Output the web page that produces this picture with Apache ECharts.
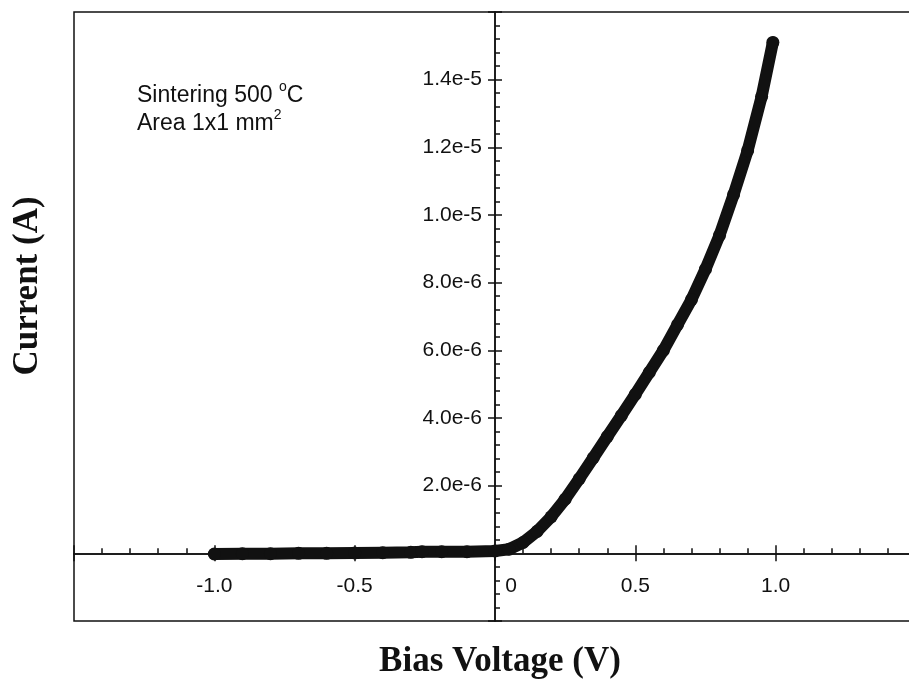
<!DOCTYPE html>
<html>
<head>
<meta charset="utf-8">
<script src="https://cdn.jsdelivr.net/npm/echarts@6/dist/echarts.min.js"></script>
<style>
  html, body { margin: 0; padding: 0; background: #fff; }
  #main { width: 909px; height: 685px; }
</style>
</head>
<body>
<div id="main"></div>
<script>
var voltage = [-1.0, -0.9, -0.8, -0.7, -0.6, -0.5, -0.4, -0.3, -0.26, -0.19, -0.1, 0.0,
  0.05, 0.10, 0.15, 0.20, 0.25, 0.30, 0.35, 0.40, 0.45, 0.50, 0.55, 0.60,
  0.65, 0.70, 0.75, 0.80, 0.85, 0.90, 0.95, 0.99];
var current = [-0.02e-6, -0.01e-6, -0.01e-6, 0.0, 0.0, 0.01e-6, 0.02e-6, 0.03e-6, 0.05e-6, 0.05e-6, 0.05e-6, 0.07e-6,
  0.12e-6, 0.32e-6, 0.65e-6, 1.08e-6, 1.6e-6, 2.2e-6, 2.82e-6, 3.45e-6, 4.07e-6, 4.7e-6, 5.35e-6, 6.0e-6,
  6.75e-6, 7.5e-6, 8.4e-6, 9.4e-6, 10.6e-6, 11.9e-6, 13.5e-6, 15.1e-6];

var xTicks = [-1.0, -0.5, 0, 0.5, 1.0];
var yTickLabels = ['2.0e-6', '4.0e-6', '6.0e-6', '8.0e-6', '1.0e-5', '1.2e-5', '1.4e-5'];

var points = voltage.map(function (v, i) { return [v, current[i]]; });

var ink = '#111';
// plot box in pixels; the axes cross at (0, 0) inside it
var box = { left: 74, right: -7, top: 12, bottom: 64 };
var xMin = -1.5, xMax = 1.5, yMin = -2e-6, yMax = 1.6e-5;
var boxW = 909 - box.left - box.right, boxH = 685 - box.top - box.bottom;
var yAxisShift = -boxW * (0 - xMin) / (xMax - xMin);
var xAxisShift = -boxH * (0 - yMin) / (yMax - yMin);

var chart = echarts.init(document.getElementById('main'));

function xLabel(v) {
  if (Math.abs(v) < 1e-9) return '{z|0}';
  for (var i = 0; i < xTicks.length; i++) {
    if (Math.abs(xTicks[i] - v) < 1e-9) return v.toFixed(1);
  }
  return '';
}
function yLabel(v) {
  var s = v.toExponential(1);
  return yTickLabels.indexOf(s) >= 0 ? s : '';
}

var xBase = {
  type: 'value', min: xMin, max: xMax, interval: 0.5, position: 'bottom', offset: xAxisShift,
  splitLine: { show: false },
  axisLine: { onZero: false, lineStyle: { color: ink, width: 1.5 } }
};
var yBase = {
  type: 'value', min: yMin, max: yMax, interval: 2e-6, position: 'left', offset: yAxisShift,
  splitLine: { show: false },
  axisLine: { onZero: false, lineStyle: { color: ink, width: 1.5 } }
};

var option = {
  animation: false,
  backgroundColor: '#fff',
  grid: {
    left: box.left, right: box.right, top: box.top, bottom: box.bottom,
    show: true, borderColor: ink, borderWidth: 1.5,
    outerBoundsMode: 'none'
  },
  xAxis: [
    Object.assign({}, xBase, {
      axisTick: { inside: true, length: 8, lineStyle: { color: ink, width: 1.5 } },
      minorTick: { show: true, splitNumber: 5, length: 5, lineStyle: { color: ink, width: 1.5 } },
      axisLabel: {
        margin: 22, fontFamily: 'Liberation Sans, Arial', fontSize: 21, color: ink,
        showMinLabel: false, showMaxLabel: false, formatter: xLabel,
        rich: { z: { fontFamily: 'Liberation Sans, Arial', fontSize: 21, color: ink, padding: [0, 0, 0, 32] } }
      }
    }),
    Object.assign({}, xBase, {
      axisTick: { inside: false, length: 8, lineStyle: { color: ink, width: 1.5 } },
      axisLabel: { show: false }
    })
  ],
  yAxis: [
    Object.assign({}, yBase, {
      axisTick: { inside: true, length: 7, lineStyle: { color: ink, width: 1.5 } },
      minorTick: { show: true, splitNumber: 5, length: 5, lineStyle: { color: ink, width: 1.5 } },
      axisLabel: {
        margin: 13, fontFamily: 'Liberation Sans, Arial', fontSize: 21, color: ink,
        showMinLabel: false, showMaxLabel: false, formatter: yLabel
      }
    }),
    Object.assign({}, yBase, {
      axisTick: { inside: false, length: 7, lineStyle: { color: ink, width: 1.5 } },
      axisLabel: { show: false }
    })
  ],
  graphic: [
    {
      type: 'text', left: 137, top: 80,
      style: {
        text: 'Sintering 500 {sup|o}C\nArea 1x1 mm{sup|2}',
        fontFamily: 'Liberation Sans, Arial', fontSize: 23, fill: ink, lineHeight: 28,
        rich: {
          sup: { fontFamily: 'Liberation Sans, Arial', fontSize: 14, fill: ink, lineHeight: 14, padding: [0, 0, 18, 0] }
        }
      }
    },
    {
      type: 'text', x: 500, y: 662,
      style: {
        text: 'Bias Voltage (V)', fontFamily: 'Liberation Serif, Times New Roman', fontWeight: 'bold',
        fontSize: 35, fill: ink, align: 'center', verticalAlign: 'middle'
      }
    },
    {
      type: 'text', x: 28, y: 286, rotation: Math.PI / 2,
      style: {
        text: 'Current (A)', fontFamily: 'Liberation Serif, Times New Roman', fontWeight: 'bold',
        fontSize: 35, fill: ink, align: 'center', verticalAlign: 'middle'
      }
    }
  ],
  series: [{
    type: 'line',
    xAxisIndex: 0, yAxisIndex: 0,
    data: points,
    symbol: 'circle', symbolSize: 13, showAllSymbol: true,
    itemStyle: { color: ink },
    lineStyle: { color: ink, width: 12, cap: 'round', join: 'round' },
    z: 5
  }]
};

chart.setOption(option);
</script>
</body>
</html>
